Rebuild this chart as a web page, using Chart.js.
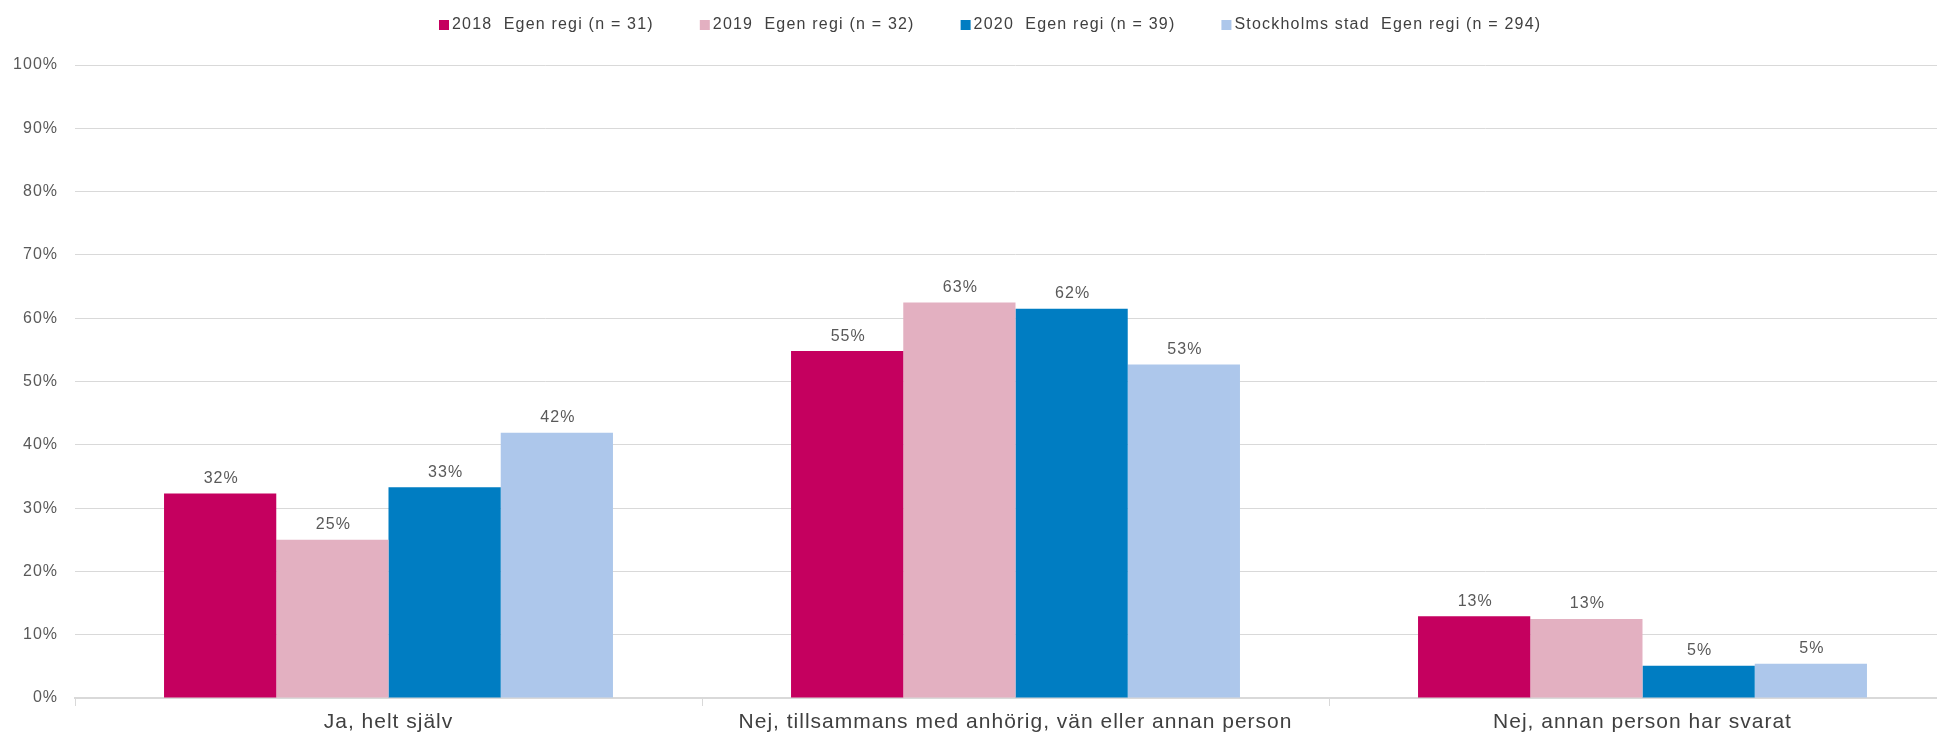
<!DOCTYPE html>
<html>
<head>
<meta charset="utf-8">
<script src="https://cdn.jsdelivr.net/npm/chart.js@4"></script>
<style>
  html, body { margin: 0; padding: 0; background: #fff; overflow: hidden; }
  /* the plot runs a little past the right edge of the picture */
  #wrap { width: 1956px; height: 735px; }
</style>
</head>
<body>
<div id="wrap"><canvas id="chart"></canvas></div>
<script>
// categories and series
const categories = ['Ja, helt själv', 'Nej, tillsammans med anhörig, vän eller annan person', 'Nej, annan person har svarat'];
const seriesNames = ['2018  Egen regi (n = 31)', '2019  Egen regi (n = 32)', '2020  Egen regi (n = 39)', 'Stockholms stad  Egen regi (n = 294)'];
const values2018 = [32.3, 54.8, 12.9];
const values2019 = [25.0, 62.5, 12.5];
const values2020 = [33.3, 61.5, 5.1];
const valuesStockholm = [41.9, 52.7, 5.4];
const seriesColors = ['#c5005f', '#e3b0c1', '#007dc2', '#adc7eb'];
const yTicks = [0, 10, 20, 30, 40, 50, 60, 70, 80, 90, 100];

const FONT = "'Liberation Sans', Arial, sans-serif";

// the reference text is a bit spaced out, canvas resets this on resize so set it every time
const spacing = {
    id: 'spacing',
    beforeLayout(chart) { chart.ctx.letterSpacing = '1px'; },
    beforeDraw(chart) { chart.ctx.letterSpacing = '1px'; }
};

// draw the rounded percent above each bar
const valueLabels = {
    id: 'valueLabels',
    afterDatasetsDraw(chart) {
        const ctx = chart.ctx;
        ctx.save();
        ctx.font = '16px ' + FONT;
        ctx.letterSpacing = '1px';
        ctx.fillStyle = '#595959';
        ctx.textAlign = 'center';
        ctx.textBaseline = 'bottom';
        chart.data.datasets.forEach((ds, i) => {
            chart.getDatasetMeta(i).data.forEach((bar, j) => {
                ctx.fillText(Math.round(ds.data[j]) + '%', bar.x + 1, bar.y - 7);
            });
        });
        ctx.restore();
    }
};

// legend drawn by hand: the built-in one also uses its padding vertically
const topLegend = {
    id: 'topLegend',
    afterDraw(chart) {
        const ctx = chart.ctx;
        const box = 10, gap = 46, startX = 439, midY = 25;
        ctx.save();
        ctx.font = '16px ' + FONT;
        ctx.letterSpacing = '1.2px';
        ctx.textBaseline = 'middle';
        ctx.textAlign = 'left';
        let x = startX;
        chart.data.datasets.forEach((ds) => {
            ctx.fillStyle = ds.backgroundColor;
            ctx.fillRect(x, midY - box / 2, box, box);
            ctx.fillStyle = '#404040';
            ctx.fillText(ds.label, x + box + 3, midY);
            x += box + 3 + ctx.measureText(ds.label).width + gap;
        });
        ctx.restore();
    }
};

const datasets = [values2018, values2019, values2020, valuesStockholm].map((vals, i) => ({
    label: seriesNames[i],
    data: vals,
    backgroundColor: seriesColors[i],
    borderWidth: 0,
    barPercentage: 1.0,
    categoryPercentage: 0.716
}));

new Chart(document.getElementById('chart'), {
    type: 'bar',
    data: { labels: categories, datasets: datasets },
    options: {
        responsive: true,
        maintainAspectRatio: false,
        animation: false,
        layout: { padding: { left: 0, right: 0, top: 65, bottom: 0 } },
        plugins: {
            tooltip: { enabled: false },
            legend: { display: false }
        },
        scales: {
            x: {
                afterFit(scale) { scale.height = 37; },
                grid: {
                    offset: true,
                    drawOnChartArea: false,
                    drawTicks: true,
                    tickLength: 8,
                    color: '#d9d9d9'
                },
                border: { color: '#d9d9d9', width: 2 },
                ticks: {
                    font: { family: FONT, size: 21 },
                    color: '#404040',
                    padding: 4,
                    maxRotation: 0
                }
            },
            y: {
                min: 0,
                max: 100,
                afterFit(scale) { scale.width = 75; },
                afterBuildTicks(scale) { scale.ticks = yTicks.map(v => ({ value: v })); },
                grid: { color: '#d9d9d9', drawTicks: false },
                border: { display: false },
                ticks: {
                    font: { family: FONT, size: 16 },
                    color: '#595959',
                    padding: 17,
                    callback: v => v + '%'
                }
            }
        }
    },
    plugins: [spacing, valueLabels, topLegend]
});
</script>
</body>
</html>
